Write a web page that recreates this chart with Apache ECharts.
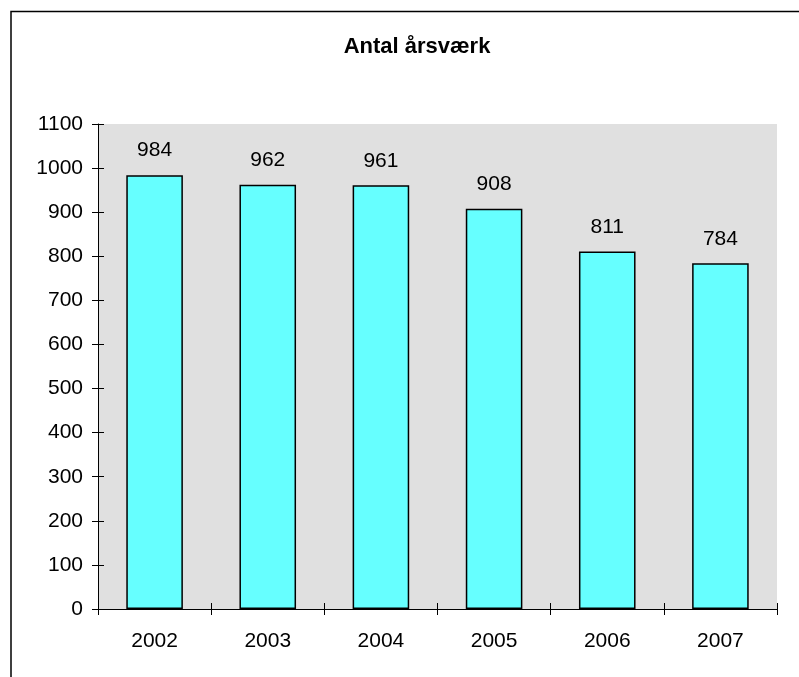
<!DOCTYPE html>
<html>
<head>
<meta charset="utf-8">
<script src="https://cdn.jsdelivr.net/npm/echarts@6/dist/echarts.min.js"></script>
<style>
html,body{margin:0;padding:0;background:#fff;}
#c{width:799px;height:677px;}
</style>
</head>
<body>
<div id="c"></div>
<script>
var years = ['2002', '2003', '2004', '2005', '2006', '2007'];
var aarsvaerk = [984, 962, 961, 908, 811, 784];
var titleText = 'Antal årsværk';

var chart = echarts.init(document.getElementById('c'));
var font = '"Liberation Sans", Arial, sans-serif';
chart.setOption({
  animation: false,
  backgroundColor: '#ffffff',
  title: {
    text: titleText,
    left: 412,
    textAlign: 'center',
    top: 31,
    textStyle: { fontFamily: font, fontWeight: 'bold', fontSize: 22, color: '#000' }
  },
  graphic: [{
    type: 'polyline',
    shape: { points: [[11, 677], [11, 11.5], [799, 11.5]] },
    style: { stroke: '#000', lineWidth: 1.5, fill: null },
    silent: true
  }],
  grid: { left: 98, top: 124, right: 22, bottom: 68, show: true, backgroundColor: '#e0e0e0', borderWidth: 0 },
  xAxis: [{
    type: 'category',
    data: years,
    boundaryGap: true,
    axisLine: { lineStyle: { color: '#000', width: 1 } },
    axisTick: { show: true, inside: false, length: 6, alignWithLabel: false, lineStyle: { color: '#000' } },
    axisLabel: { fontFamily: font, fontSize: 21, color: '#000', margin: 22 },
    splitLine: { show: false }
  }, {
    type: 'category',
    data: years,
    position: 'bottom',
    boundaryGap: true,
    axisLine: { show: false },
    axisTick: { show: true, inside: true, length: 6, alignWithLabel: false, lineStyle: { color: '#000' } },
    axisLabel: { show: false },
    splitLine: { show: false }
  }],
  yAxis: [{
    type: 'value',
    min: 0, max: 1100, interval: 100,
    axisLine: { show: true, lineStyle: { color: '#000', width: 1 } },
    axisTick: { show: true, inside: false, length: 6, lineStyle: { color: '#000' } },
    axisLabel: { fontFamily: font, fontSize: 21, color: '#000', margin: 15, formatter: function (v) { return String(v); } },
    splitLine: { show: false }
  }, {
    type: 'value',
    position: 'left',
    min: 0, max: 1100, interval: 100,
    axisLine: { show: false },
    axisTick: { show: true, inside: true, length: 6, lineStyle: { color: '#000' } },
    axisLabel: { show: false },
    splitLine: { show: false }
  }],
  series: [{
    type: 'bar',
    xAxisIndex: 0,
    yAxisIndex: 0,
    data: aarsvaerk,
    barWidth: '50%',
    itemStyle: { color: '#66ffff', borderColor: '#000', borderWidth: 1.5 },
    label: {
      show: true, position: 'top', distance: 14,
      fontFamily: font, fontSize: 21, color: '#000'
    }
  }]
});
</script>
</body>
</html>
